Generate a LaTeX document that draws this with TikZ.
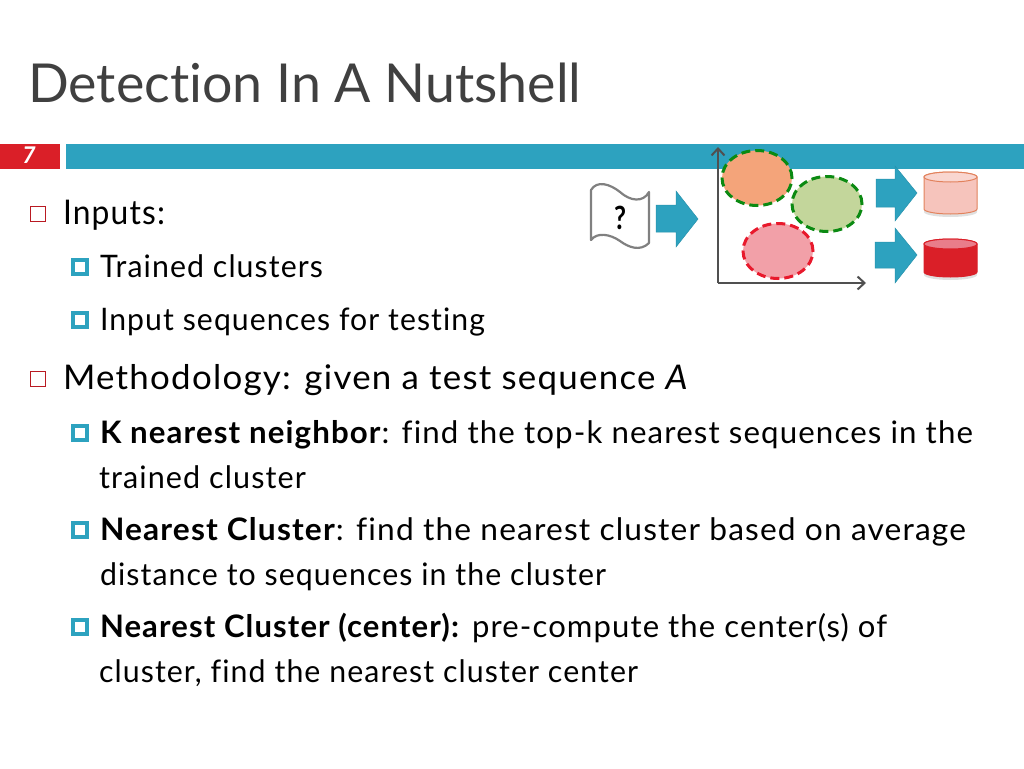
\documentclass[tikz,border=0pt]{standalone}
\usepackage{fontspec}
\setmainfont{Lato}[LetterSpace=3.6,Ligatures=NoCommon]
\newfontfamily\titlefont{Lato}[Ligatures=NoCommon]
\usetikzlibrary{arrows.meta,shapes.geometric}
\definecolor{teal}{HTML}{2DA2BF}
\definecolor{slidered}{HTML}{DA1F28}
\definecolor{ink}{HTML}{404040}
\definecolor{axisgray}{HTML}{505050}
\definecolor{dgreen}{HTML}{0B8A12}
\definecolor{dred}{HTML}{E8192C}
\definecolor{corange}{HTML}{F4A47A}
\definecolor{cgreen}{HTML}{C3D69B}
\definecolor{cred}{HTML}{F2A0A8}
\definecolor{cylpink}{HTML}{F6C4BC}
\definecolor{cyltop}{HTML}{F9D6D0}
\definecolor{cylline}{HTML}{E2825C}
\definecolor{cyltopred}{HTML}{E97D8A}
\newcommand{\fitw}[2]{\resizebox{#1pt}{\height}{#2}}
\tikzset{
  x=1pt,y=-1pt,
  txt/.style={anchor=base west,inner sep=0pt,outer sep=0pt,font=\fontsize{31}{31}\selectfont,text=black},
  lvlone/.style={txt,font=\fontsize{34}{34}\selectfont},
  barrow/.style={fill=teal,draw=teal!90!black,line width=.5pt},
  redbox/.style={draw=slidered!85!black,line width=1.3pt,fill=white,minimum size=15.5pt,inner sep=0pt},
  bluebox/.style={draw=teal,line width=4pt,fill=white,minimum size=14pt,inner sep=0pt},
  cluster/.style={ellipse,minimum width=70pt,minimum height=55pt,inner sep=0pt,line width=3pt,dash pattern=on 9pt off 5pt},
  axis/.style={draw=axisgray,line width=2pt,-{Straight Barb[length=7pt,width=13pt,line width=2pt]}},
  cylshadow/.style={fill=black,opacity=.12},
  cylarc/.style={x radius=26.5pt,y radius=5pt},
}
\begin{document}
\begin{tikzpicture}
\useasboundingbox (0,0) rectangle (1024,768);
\node[anchor=base west,inner sep=0pt,text=ink,font=\titlefont\fontsize{53.7}{54}\selectfont] (title) at (28,102) {Detection In A Nutshell};
\fill[teal] (66,144) rectangle (1024,169);
\fill[slidered] (0,144) rectangle (60,169);
\node[text=white,font=\bfseries\itshape\fontsize{23}{23}\selectfont,inner sep=0pt] (num) at (29,155) {7};
% axes
\coordinate (org) at (718,283);
\coordinate (ytip) at (718,147);
\coordinate (xtip) at (866,283);
\draw[axis] (org) -- (ytip);
\draw[axis] (org) -- (xtip);
% clusters
\node[cluster,fill=corange,draw=dgreen] (c1) at (757,178) {};
\node[cluster,fill=cgreen,draw=dgreen] (c2) at (827,204) {};
\node[cluster,fill=cred,draw=dred] (c3) at (778,251) {};
% block arrows
\draw[barrow] (656,205) -- (676,205) -- (676,191) -- (698,219) -- (676,247) -- (676,232) -- (656,232) -- cycle;
\draw[barrow] (876,179) -- (895,179) -- (895,166) -- (917,193) -- (895,221) -- (895,207) -- (876,207) -- cycle;
\draw[barrow] (875,242) -- (895,242) -- (895,228) -- (917,255) -- (895,283) -- (895,268) -- (875,268) -- cycle;
% document
\draw[draw=gray,line width=2.2pt,fill=white,line join=round]
  (591,190) .. controls (597,180) and (610,184) .. (620,192) .. controls (630,201) and (643,203) .. (649,192)
  -- (649,243) .. controls (640,252) and (628,247) .. (620,241) .. controls (610,234) and (597,232) .. (591,240) -- cycle;
\node[inner sep=0pt,font=\bfseries\fontsize{32}{32}\selectfont] (q) at (620,218) {\resizebox{12pt}{\height}{?}};
% cylinders
\fill[cylshadow] (924,180) -- (924,212) arc[start angle=180,end angle=360,cylarc] -- (977,180) -- cycle;
\draw[fill=cylpink,draw=cylline,line width=1pt] (924,177) -- (924,209) arc[start angle=180,end angle=360,cylarc] -- (977,177) arc[start angle=0,end angle=180,cylarc] -- cycle;
\draw[fill=cyltop,draw=cylline,line width=1pt] (950.5,177) ellipse[cylarc];
\fill[cylshadow] (924,247) -- (924,275) arc[start angle=180,end angle=360,cylarc] -- (977,247) -- cycle;
\draw[fill=slidered,draw=slidered,line width=1pt] (924,244) -- (924,272) arc[start angle=180,end angle=360,cylarc] -- (977,244) arc[start angle=0,end angle=180,cylarc] -- cycle;
\draw[fill=cyltopred,draw=slidered,line width=1pt] (950.5,244) ellipse[cylarc];
% text
\node[redbox] (b1) at (38,214) {};
\node[lvlone] (t1) at (63,224) {\fitw{102}{Inputs:}};
\node[bluebox] (b2) at (80,267) {};
\node[txt] (t2) at (100,277) {\fitw{223}{Trained clusters}};
\node[bluebox] (b3) at (80,320) {};
\node[txt] (t3) at (100,330) {\fitw{385}{Input sequences for testing}};
\node[redbox] (b4) at (38,379) {};
\node[lvlone] (t4) at (63,389) {\fitw{626}{Methodology: given a test sequence \textit{A}}};
\node[bluebox] (b5) at (80,433) {};
\node[txt] (t5) at (100,443) {\fitw{873}{\textbf{K nearest neighbor}: find the top-k nearest sequences in the}};
\node[txt] (t6) at (99,488) {\fitw{207}{trained cluster}};
\node[bluebox] (b6) at (80,530) {};
\node[txt] (t7) at (100,540) {\fitw{866}{\textbf{Nearest Cluster}: find the nearest cluster based on average}};
\node[txt] (t8) at (100,585) {\fitw{506}{distance to sequences in the cluster}};
\node[bluebox] (b7) at (80,627) {};
\node[txt] (t9) at (100,637) {\fitw{787}{\textbf{Nearest Cluster (center):} pre-compute the center(s) of}};
\node[txt] (t10) at (99,682) {\fitw{539}{cluster, find the nearest cluster center}};
\end{tikzpicture}
\end{document}
